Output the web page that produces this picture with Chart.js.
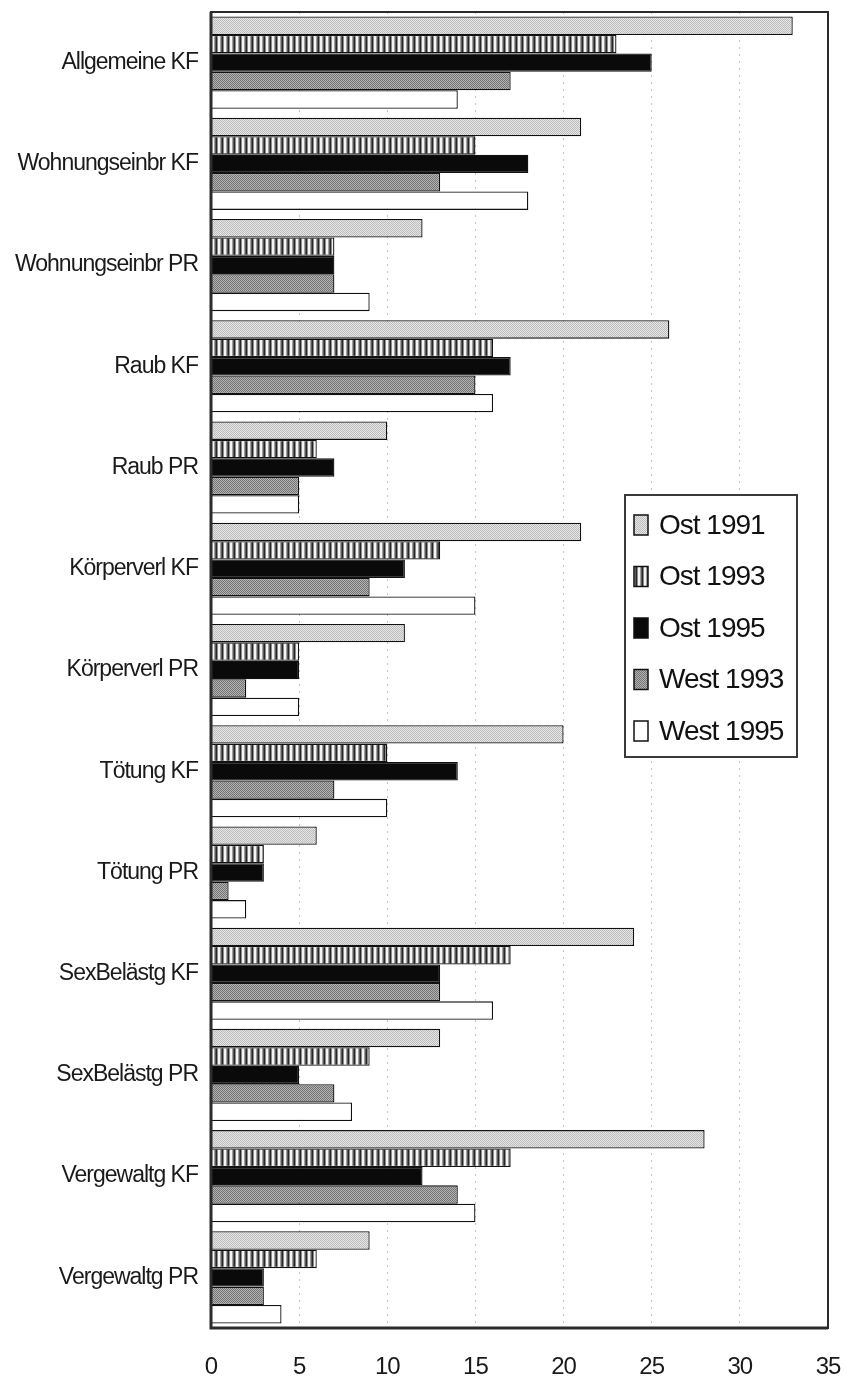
<!DOCTYPE html>
<html>
<head>
<meta charset="utf-8">
<script src="https://cdn.jsdelivr.net/npm/chart.js@4.4.1/dist/chart.umd.min.js"></script>
<style>
  html, body { margin: 0; padding: 0; background: #fff; }
  #wrap { position: relative; width: 845px; height: 1378px; }
</style>
</head>
<body>
<div id="wrap"><canvas id="chart"></canvas></div>
<script>
const categories = [
  "Allgemeine KF", "Wohnungseinbr KF", "Wohnungseinbr PR", "Raub KF", "Raub PR",
  "Körperverl KF", "Körperverl PR", "Tötung KF", "Tötung PR",
  "SexBelästg KF", "SexBelästg PR", "Vergewaltg KF", "Vergewaltg PR"
];
const ost1991  = [33, 21, 12, 26, 10, 21, 11, 20, 6, 24, 13, 28, 9];
const ost1993  = [23, 15, 7, 16, 6, 13, 5, 10, 3, 17, 9, 17, 6];
const ost1995  = [25, 18, 7, 17, 7, 11, 5, 14, 3, 13, 5, 12, 3];
const west1993 = [17, 13, 7, 15, 5, 9, 2, 7, 1, 13, 7, 14, 3];
const west1995 = [14, 18, 9, 16, 5, 15, 5, 10, 2, 16, 8, 15, 4];
const xTicks = [0, 5, 10, 15, 20, 25, 30, 35];

const canvas = document.getElementById("chart");
const ctx = canvas.getContext("2d");

// small repeating fills: dotted greys and vertical hatching
function pattern(w, h, cells) {
  const c = document.createElement("canvas");
  c.width = w;
  c.height = h;
  const p = c.getContext("2d");
  for (let y = 0; y < h; y++) {
    for (let x = 0; x < w; x++) {
      p.fillStyle = cells(x, y);
      p.fillRect(x, y, 1, 1);
    }
  }
  return ctx.createPattern(c, "repeat");
}

const lightDots = pattern(2, 2, (x, y) => ((x + y) % 2 ? "#e6e6e6" : "#bcbcbc"));
const darkDots = pattern(2, 2, (x, y) => ((x + y) % 2 ? "#b2b2b2" : "#747474"));
const stripeCols = ["#262626", "#8c8c8c", "#f4f4f4", "#f4f4f4", "#a0a0a0", "#5a5a5a"];
const stripes = pattern(6, 1, (x) => stripeCols[x]);

const series = [
  { label: "Ost 1991", data: ost1991, fill: lightDots },
  { label: "Ost 1993", data: ost1993, fill: stripes },
  { label: "Ost 1995", data: ost1995, fill: "#0a0a0a" },
  { label: "West 1993", data: west1993, fill: darkDots },
  { label: "West 1995", data: west1995, fill: "#ffffff" },
];

// narrow lettering for the tick labels
const tightText = {
  id: "tightText",
  beforeUpdate(chart) { chart.ctx.letterSpacing = "-1px"; },
  beforeDraw(chart) { chart.ctx.letterSpacing = "-1px"; },
};

// box round the plot area
const frame = {
  id: "frame",
  afterDatasetsDraw(chart) {
    const { ctx, chartArea: a } = chart;
    ctx.save();
    ctx.strokeStyle = "#2b2b2b";
    ctx.lineWidth = 2;
    ctx.strokeRect(a.left, a.top, a.right - a.left, a.bottom - a.top);
    ctx.lineWidth = 3;
    ctx.beginPath();
    ctx.moveTo(a.left, a.top);
    ctx.lineTo(a.left, a.bottom);
    ctx.lineTo(a.right, a.bottom);
    ctx.stroke();
    ctx.restore();
  },
};

// legend box inside the plot, right side
const boxLegend = {
  id: "boxLegend",
  afterDraw(chart) {
    const { ctx, chartArea: a } = chart;
    const left = a.right - 203, top = a.top + 483, w = 172, h = 262;
    ctx.save();
    ctx.letterSpacing = "-1px";
    ctx.fillStyle = "#fff";
    ctx.fillRect(left, top, w, h);
    ctx.strokeStyle = "#3a3a3a";
    ctx.lineWidth = 2;
    ctx.strokeRect(left, top, w, h);
    ctx.font = "28px 'Liberation Sans', Arial, sans-serif";
    ctx.textBaseline = "middle";
    chart.data.datasets.forEach((ds, i) => {
      const cy = top + 30 + i * 51.5;
      ctx.fillStyle = ds.backgroundColor;
      ctx.fillRect(left + 9, cy - 10, 14, 20);
      ctx.strokeStyle = "#111";
      ctx.lineWidth = 1.5;
      ctx.strokeRect(left + 9, cy - 10, 14, 20);
      ctx.fillStyle = "#111";
      ctx.fillText(ds.label, left + 34, cy + 1);
    });
    ctx.restore();
  },
};

new Chart(canvas, {
  type: "bar",
  data: {
    labels: categories,
    datasets: series.map((s) => ({
      label: s.label,
      data: s.data,
      backgroundColor: s.fill,
      borderColor: "#111",
      borderWidth: 1.3,
      categoryPercentage: 0.91,
      barPercentage: 1,
    })),
  },
  options: {
    indexAxis: "y",
    responsive: true,
    maintainAspectRatio: false,
    animation: false,
    devicePixelRatio: 1,
    layout: { padding: { top: 12, right: 17, left: 0, bottom: 0 } },
    plugins: {
      legend: { display: false },
      tooltip: { enabled: false },
    },
    scales: {
      x: {
        min: 0,
        max: 35,
        afterFit: (scale) => {
          scale.height = 50;
          scale.paddingLeft = 0;
          scale.paddingRight = 0;
        },
        afterBuildTicks: (scale) => {
          scale.ticks = xTicks.map((v) => ({ value: v }));
        },
        grid: { color: "#c4c4c4", lineWidth: 1, drawTicks: false },
        border: { display: false, dash: [2, 5] },
        ticks: {
          padding: 25,
          color: "#1a1a1a",
          font: { family: "'Liberation Sans', Arial, sans-serif", size: 24 },
        },
      },
      y: {
        afterFit: (scale) => {
          scale.width = 211;
          scale.paddingTop = 0;
          scale.paddingBottom = 0;
        },
        grid: { display: false, drawTicks: false },
        border: { display: false },
        ticks: {
          padding: 13,
          color: "#1a1a1a",
          font: { family: "'Liberation Sans', Arial, sans-serif", size: 23 },
        },
      },
    },
  },
  plugins: [tightText, frame, boxLegend],
});
</script>
</body>
</html>
